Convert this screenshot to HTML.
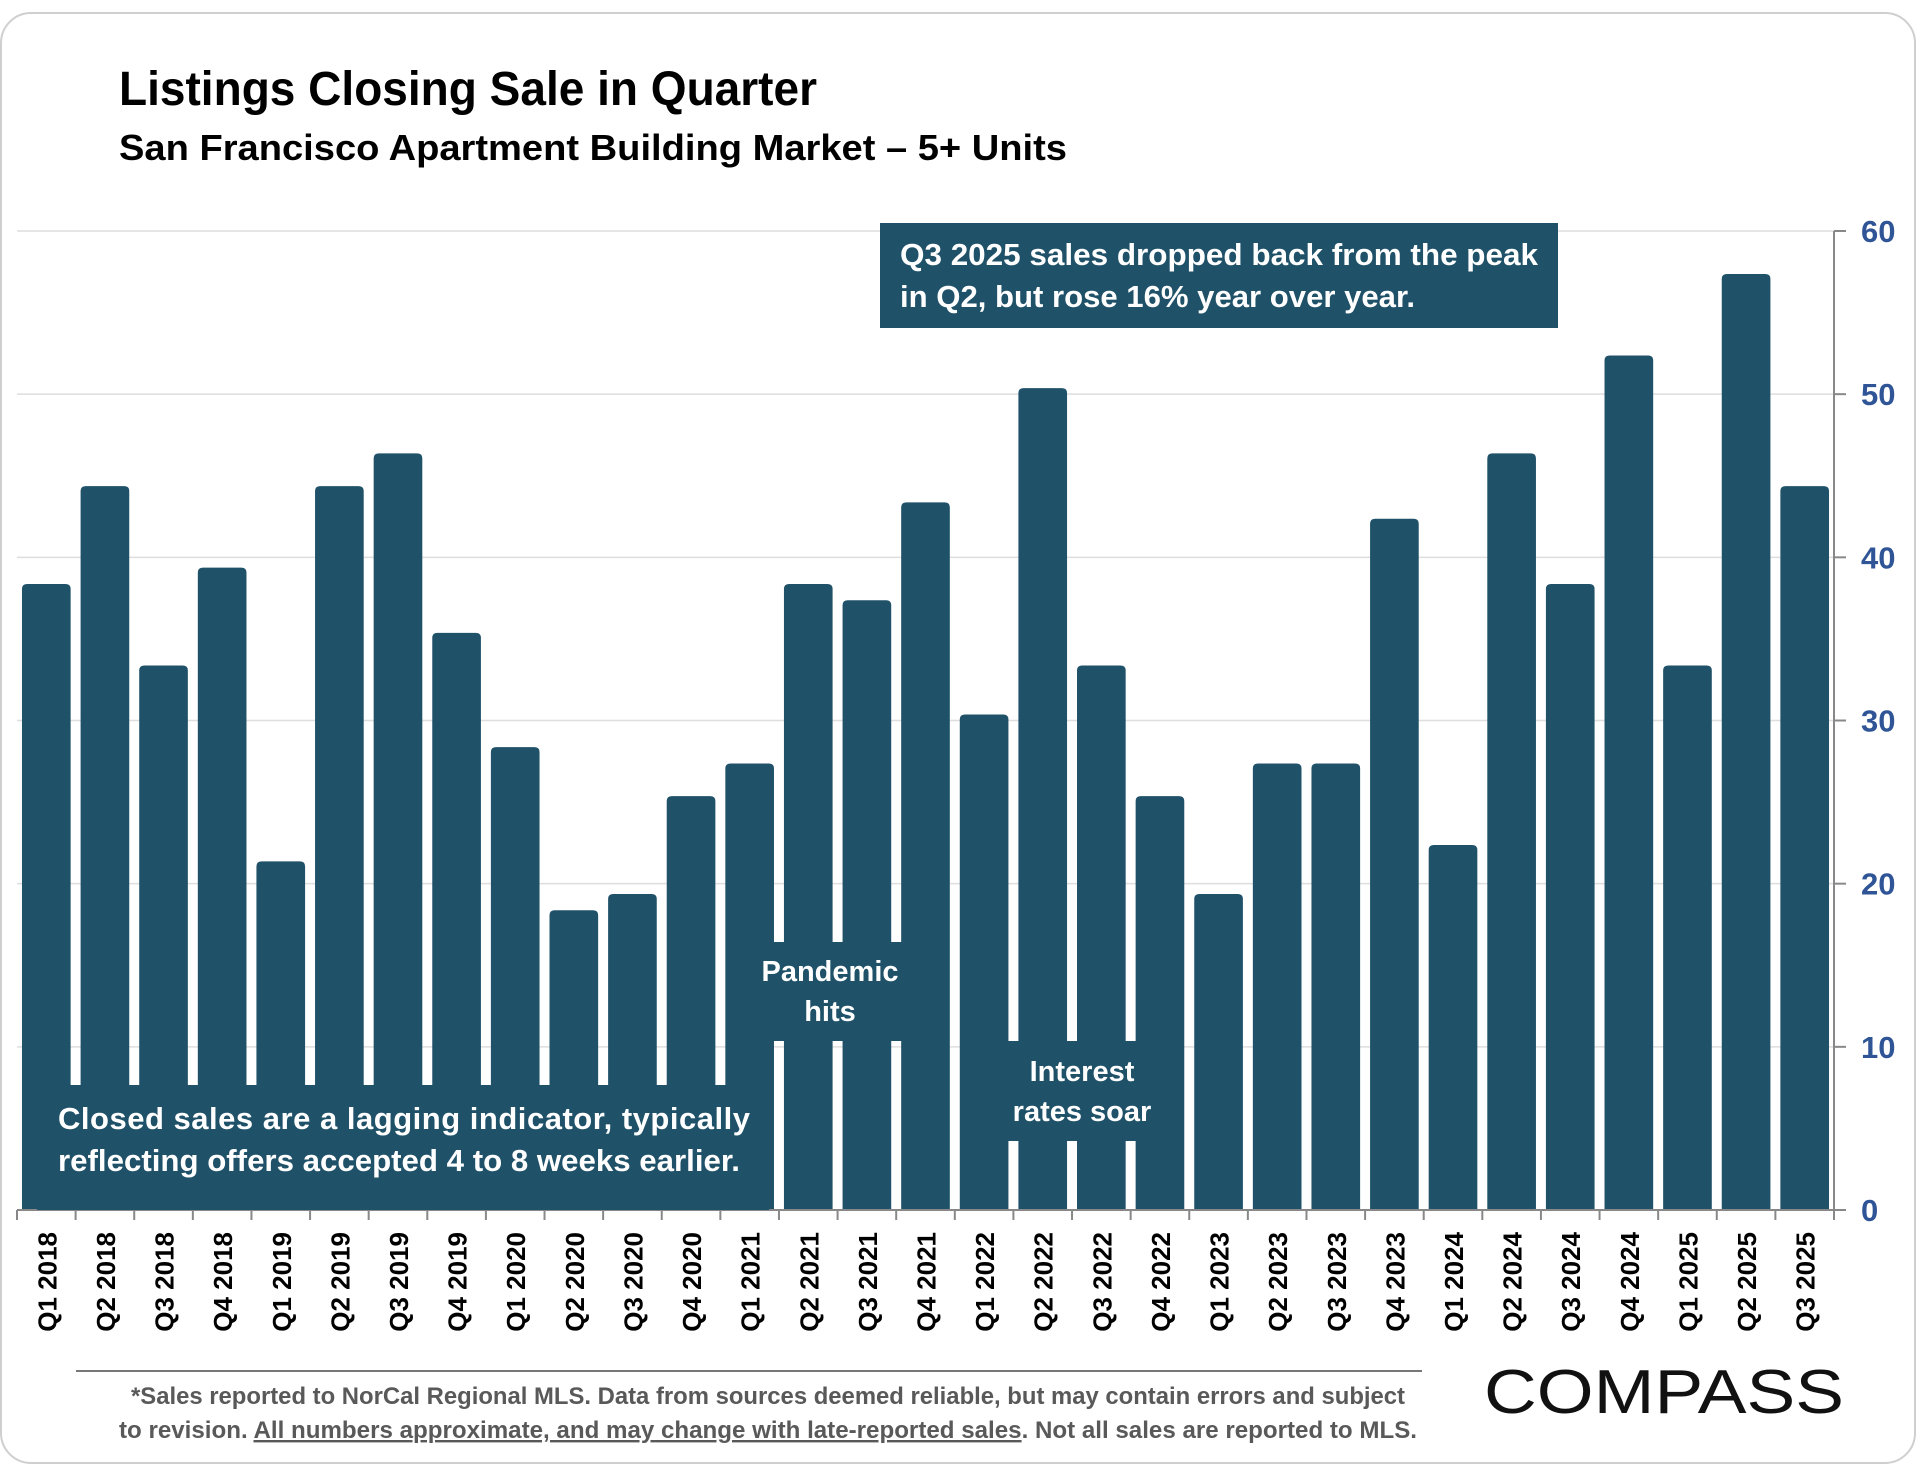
<!DOCTYPE html>
<html><head><meta charset="utf-8"><style>
html,body{margin:0;padding:0;background:#fff;width:1920px;height:1482px;overflow:hidden}
svg{display:block;font-family:"Liberation Sans",sans-serif}
</style></head><body>
<svg id="chart" width="1920" height="1482" viewBox="0 0 1920 1482">
<rect x="1" y="13" width="1914" height="1450" rx="30" fill="#fff" stroke="#cfcfcf" stroke-width="2"/>
<text x="119" y="105" font-size="48" font-weight="bold" textLength="698" lengthAdjust="spacingAndGlyphs">Listings Closing Sale in Quarter</text>
<text x="119" y="160" font-size="36" font-weight="bold" textLength="948" lengthAdjust="spacingAndGlyphs">San Francisco Apartment Building Market – 5+ Units</text>
<g id="grid"></g>
<g id="bars"></g>
<g id="axes"></g>
<g id="notes">
<rect x="880" y="223" width="678" height="105" fill="#1f5169"/>
<text x="900" y="265" font-size="31" font-weight="bold" fill="#fff" textLength="638" lengthAdjust="spacingAndGlyphs">Q3 2025 sales dropped back from the peak</text>
<text x="900" y="307" font-size="31" font-weight="bold" fill="#fff" textLength="515" lengthAdjust="spacingAndGlyphs">in Q2, but rose 16% year over year.</text>
<rect x="747" y="942" width="165" height="99" fill="#1f5169"/>
<text x="830" y="981" font-size="29" font-weight="bold" fill="#fff" text-anchor="middle">Pandemic</text>
<text x="830" y="1021" font-size="29" font-weight="bold" fill="#fff" text-anchor="middle">hits</text>
<rect x="1006" y="1041" width="152" height="100" fill="#1f5169"/>
<text x="1082" y="1081" font-size="29" font-weight="bold" fill="#fff" text-anchor="middle">Interest</text>
<text x="1082" y="1121" font-size="29" font-weight="bold" fill="#fff" text-anchor="middle">rates soar</text>
<rect x="37" y="1085" width="732" height="125" fill="#1f5169"/>
<text x="58" y="1129" font-size="31" font-weight="bold" fill="#fff" textLength="692" lengthAdjust="spacing">Closed sales are a lagging indicator, typically</text>
<text x="58" y="1171" font-size="31" font-weight="bold" fill="#fff" textLength="682" lengthAdjust="spacingAndGlyphs">reflecting offers accepted 4 to 8 weeks earlier.</text>
</g>
<line x1="76" y1="1371" x2="1422" y2="1371" stroke="#777" stroke-width="2"/>
<text x="768" y="1404" font-size="24" font-weight="bold" fill="#595959" text-anchor="middle" textLength="1274" lengthAdjust="spacingAndGlyphs">*Sales reported to NorCal Regional MLS. Data from sources deemed reliable, but may contain errors and subject</text>
<text x="768" y="1438" font-size="24" font-weight="bold" fill="#595959" text-anchor="middle" textLength="1298" lengthAdjust="spacingAndGlyphs">to revision. <tspan text-decoration="underline">All numbers approximate, and may change with late-reported sales</tspan>. Not all sales are reported to MLS.</text>
<text x="1484" y="1413" font-size="62" fill="#111" textLength="360" lengthAdjust="spacingAndGlyphs">COMPASS</text>
</svg>
<script>
const categories = ["Q1 2018","Q2 2018","Q3 2018","Q4 2018","Q1 2019","Q2 2019","Q3 2019","Q4 2019","Q1 2020","Q2 2020","Q3 2020","Q4 2020","Q1 2021","Q2 2021","Q3 2021","Q4 2021","Q1 2022","Q2 2022","Q3 2022","Q4 2022","Q1 2023","Q2 2023","Q3 2023","Q4 2023","Q1 2024","Q2 2024","Q3 2024","Q4 2024","Q1 2025","Q2 2025","Q3 2025"];
const sales = [38,44,33,39,21,44,46,35,28,18,19,25,27,38,37,43,30,50,33,25,19,27,27,42,22,46,38,52,33,57,44];
const yTicks = [0,10,20,30,40,50,60];

const NS="http://www.w3.org/2000/svg";
const X0=17,X1=1834,Y0=1210,Y60=231,YMAX=60,CAP=6;
const band=(X1-X0)/categories.length;
const xScale=i=>X0+band*i;
const yScale=v=>Y0-(v/YMAX)*(Y0-Y60);
function mk(tag,attrs,parent){const e=document.createElementNS(NS,tag);for(const k in attrs)e.setAttribute(k,attrs[k]);parent.appendChild(e);return e;}
const grid=document.getElementById('grid'),bars=document.getElementById('bars'),axes=document.getElementById('axes');
yTicks.forEach(t=>{
  const y=yScale(t);
  if(t>0){const g=mk('line',{x1:X0,x2:X1,y1:y,y2:y,stroke:'#dedede','stroke-width':1.5},grid);
  
  }
  const tk=mk('line',{x1:X1,x2:X1+12,y1:y,y2:y,stroke:'#888','stroke-width':2},axes);
  
  
  const lb=mk('text',{x:X1+27,y:y+11,'font-size':31,'font-weight':'bold',fill:'#2f5597'},axes);
  lb.textContent=t;
  
  
});
const bw=band*0.83;
sales.forEach((v,i)=>{
  const x=xScale(i)+(band-bw)/2,y=yScale(v)-CAP,r=5;
  const p=mk('path',{d:`M${x},${Y0}V${y+r}Q${x},${y} ${x+r},${y}H${x+bw-r}Q${x+bw},${y} ${x+bw},${y+r}V${Y0}Z`,fill:'#1f5169'},bars);
  
  
});
const ax=mk('line',{x1:X0,x2:X1,y1:Y0,y2:Y0,stroke:'#888','stroke-width':2},axes);


const ay=mk('line',{x1:X1,x2:X1,y1:Y60,y2:Y0,stroke:'#888','stroke-width':2},axes);


for(let i=0;i<=categories.length;i++){
  const x=xScale(i);
  const tk=mk('line',{x1:x,x2:x,y1:Y0,y2:Y0+10,stroke:'#888','stroke-width':2},axes);
  
  
}
categories.forEach((c,i)=>{
  const cx=xScale(i)+band/2+10;
  const t=mk('text',{x:cx,y:1232,'font-size':26,'font-weight':'bold',fill:'#000','text-anchor':'end',transform:`rotate(-90 ${cx} 1232)`},axes);
  t.textContent=c;
  
  
});
</script>
</body></html>
